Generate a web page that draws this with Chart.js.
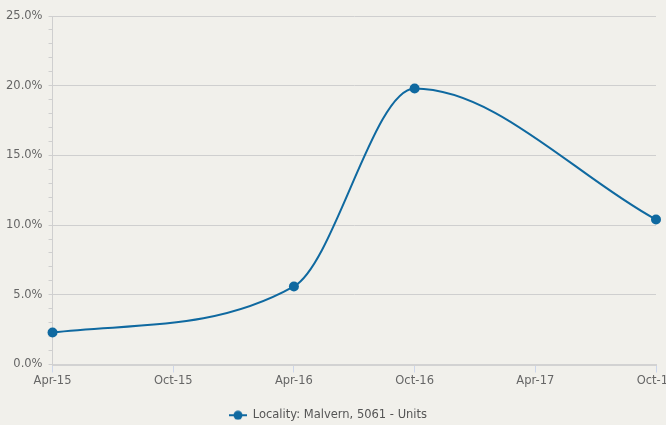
<!DOCTYPE html>
<html>
<head>
<meta charset="utf-8">
<script src="https://cdn.jsdelivr.net/npm/chart.js@4"></script>
<style>
  html, body { margin: 0; padding: 0; background: #f1f0eb; overflow: hidden; }
  #wrap { width: 666px; height: 425px; position: relative; }
</style>
</head>
<body>
<div id="wrap"><canvas id="chart"></canvas></div>
<script>
// Half-year periods shown along the x axis
const periods = ['Apr-15', 'Oct-15', 'Apr-16', 'Oct-16', 'Apr-17', 'Oct-17'];
// Periods that have a recorded value
const observedAt = ['Apr-15', 'Apr-16', 'Oct-16', 'Oct-17'];
// Growth for Malvern 5061 units (%)
const growth = [2.3, 5.6, 19.8, 10.4];
// Y axis range and label step (%)
const yMax = 25;
const yLabelStep = 5;

const seriesName = 'Locality: Malvern, 5061 - Units';
const lineColor = '#0f69a0';
const fontFamily = 'DejaVu Sans';
const fontSize = 11.5;

const points = observedAt.map((p, i) => ({ x: periods.indexOf(p), y: growth[i] }));

// Legend marker: short line with a dot through it
const marker = document.createElement('canvas');
marker.width = 18; marker.height = 10;
(function () {
  const c = marker.getContext('2d');
  c.strokeStyle = lineColor; c.lineWidth = 2;
  c.beginPath(); c.moveTo(0, 5); c.lineTo(18, 5); c.stroke();
  c.fillStyle = lineColor;
  c.beginPath(); c.arc(9, 5, 4.5, 0, Math.PI * 2); c.fill();
})();

const background = {
  id: 'background',
  beforeDraw(chart) {
    const ctx = chart.ctx;
    ctx.save();
    ctx.fillStyle = '#f1f0eb';
    ctx.fillRect(0, 0, chart.width, chart.height);
    ctx.restore();
  }
};

new Chart(document.getElementById('chart'), {
  type: 'line',
  data: {
    datasets: [{
      label: seriesName,
      data: points,
      borderColor: lineColor,
      backgroundColor: lineColor,
      borderWidth: 2,
      pointRadius: 5,
      pointHoverRadius: 5,
      pointBackgroundColor: lineColor,
      pointBorderWidth: 0,
      cubicInterpolationMode: 'monotone',
      fill: false,
      clip: false
    }]
  },
  options: {
    responsive: true,
    maintainAspectRatio: false,
    animation: false,
    layout: { padding: { top: 16, right: 10, left: 0, bottom: -6 } },
    plugins: {
      tooltip: { enabled: false },
      legend: {
        position: 'bottom',
        labels: {
          usePointStyle: true,
          pointStyle: marker,
          pointStyleWidth: 18,
          color: '#555',
          font: { family: fontFamily, size: fontSize },
          padding: 1
        }
      }
    },
    scales: {
      x: {
        type: 'linear',
        min: 0,
        max: periods.length - 1,
        afterFit(scale) { scale.paddingRight = 0; scale.height = 44; },
        ticks: {
          stepSize: 1,
          autoSkip: false,
          maxRotation: 0,
          color: '#666',
          font: { family: fontFamily, size: fontSize },
          padding: 2,
          callback: v => periods[v] ?? ''
        },
        grid: {
          drawOnChartArea: false,
          drawTicks: true,
          tickLength: 8,
          tickColor: '#ccd6eb'
        },
        border: { color: '#d2d2d2', width: 2 }
      },
      y: {
        min: 0,
        max: yMax,
        ticks: {
          stepSize: 1,
          autoSkip: false,
          color: '#666',
          font: { family: fontFamily, size: fontSize },
          padding: 6,
          callback: v => (v % yLabelStep === 0 ? v.toFixed(1) + '%' : '')
        },
        grid: {
          color: ctx => (ctx.tick && ctx.tick.value % yLabelStep === 0 ? '#cfcfcf' : 'rgba(0,0,0,0)'),
          tickColor: '#cfcfcf',
          tickLength: 4,
          drawTicks: true
        },
        border: { color: '#cfcfcf', width: 1 }
      }
    }
  },
  plugins: [background]
});
</script>
</body>
</html>
